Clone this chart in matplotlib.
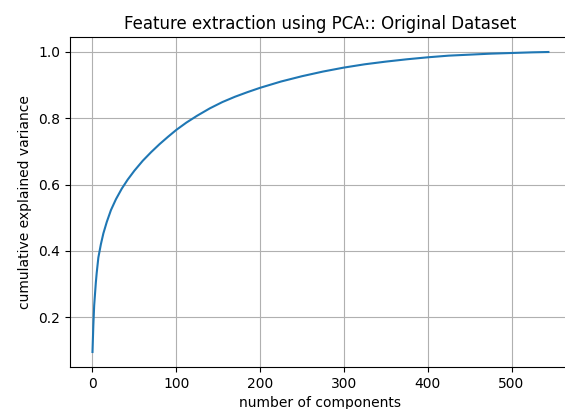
import matplotlib
matplotlib.use("Agg")
import matplotlib.pyplot as plt

# valeurs (composantes, variance cumulée)
n_components = [0, 1, 2, 3, 4, 5, 7, 10, 13, 17, 22, 28, 35, 42, 50, 60, 70,
                80, 90, 100, 112, 125, 140, 155, 170, 185, 200, 225, 250, 275,
                300, 325, 350, 375, 400, 425, 450, 475, 500, 525, 544]
cum_variance = [0.095, 0.175, 0.235, 0.27, 0.305, 0.333, 0.38, 0.42, 0.453,
                0.487, 0.523, 0.556, 0.588, 0.615, 0.642, 0.672, 0.698, 0.722,
                0.744, 0.765, 0.787, 0.808, 0.830, 0.849, 0.865, 0.879, 0.892,
                0.911, 0.927, 0.941, 0.953, 0.963, 0.971, 0.978, 0.984, 0.989,
                0.992, 0.995, 0.997, 0.999, 1.0]

title = "Feature extraction using PCA:: Original Dataset"
xlabel = "number of components"
ylabel = "cumulative explained variance"

fig = plt.figure(figsize=(5.65, 4.09), dpi=100)
# l'axe déborde à droite, comme dans la capture d'origine
ax = fig.add_axes([69.7 / 565, (409 - 367) / 409, 501.5 / 565, 330 / 409])
ax.plot(n_components, cum_variance)
ax.set_xlabel(xlabel)
ax.set_ylabel(ylabel)
ax.set_title(title)
ax.grid(True)

fig.savefig("out.png", dpi=100)
